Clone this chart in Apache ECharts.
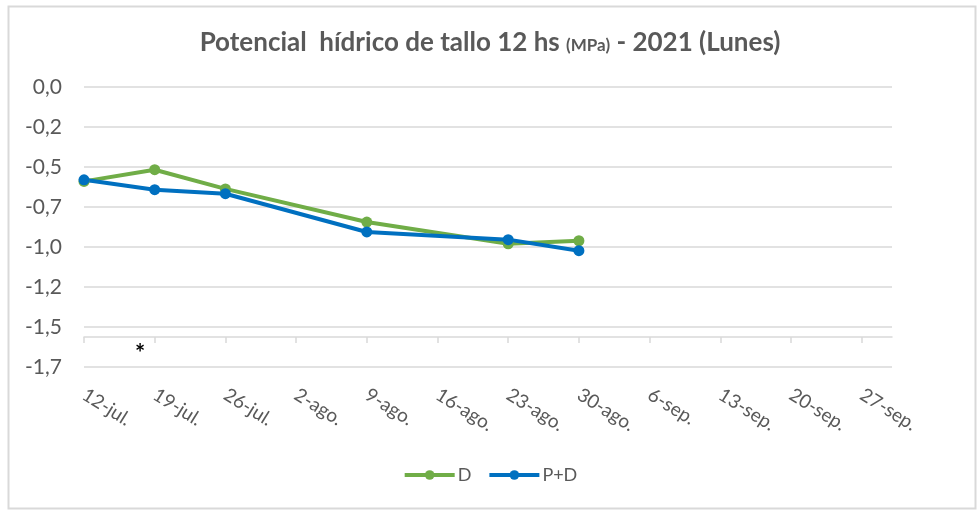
<!DOCTYPE html>
<html>
<head>
<meta charset="utf-8">
<script src="https://cdn.jsdelivr.net/npm/echarts@6/dist/echarts.min.js"></script>
<style>
html,body{margin:0;padding:0;background:#fff;}
#c{width:980px;height:511px;}
</style>
</head>
<body>
<div id="c"></div>
<script>
// Tick labels (every 7 days from 12-jul.)
const tickLabels = ['12-jul.','19-jul.','26-jul.','2-ago.','9-ago.','16-ago.','23-ago.','30-ago.','6-sep.','13-sep.','20-sep.','27-sep.'];
const yLabels = ['0,0','-0,2','-0,5','-0,7','-1,0','-1,2','-1,5','-1,7'];
// Sampling dates as days after 12-jul.
const sampleDays = [0, 7, 14, 28, 42, 49];
const seriesD  = [-0.59, -0.517, -0.637, -0.844, -0.98, -0.961];
const seriesPD = [-0.58, -0.642, -0.667, -0.906, -0.954, -1.023];

const tickDays = tickLabels.map((_, i) => i * 7);
const FONT = 'Lato';
const TXT = '#595959';
const GRID = '#d9d9d9';

const chart = echarts.init(document.getElementById('c'));
chart.setOption({
  backgroundColor: '#fff',
  animation: false,
  textStyle: { fontFamily: FONT, color: TXT },
  title: {
    left: 'center',
    top: 25,
    text: '{b|Potencial  hídrico de tallo 12 hs }{s|(MPa)}{b| - 2021 (Lunes)}',
    textStyle: {
      rich: {
        b: { fontFamily: FONT, fontSize: 26, fontWeight: 'bold', color: TXT },
        s: { fontFamily: FONT, fontSize: 17, color: TXT, padding: [5, 0, 0, 0] }
      }
    }
  },
  legend: {
    left: 'center',
    top: 461,
    itemWidth: 50,
    itemHeight: 12,
    itemGap: 16,
    lineStyle: { width: 4 },
    textStyle: { fontFamily: FONT, fontSize: 18, color: TXT, padding: [0, 0, 0, -2] },
    data: ['D', 'P+D']
  },
  grid: { left: 84, right: 88, top: 87, bottom: 144 },
  xAxis: {
    type: 'value',
    min: 0,
    max: 80,
    interval: 7,
    offset: -30,
    axisLine: { show: true, onZero: false, lineStyle: { color: GRID, width: 1.5 } },
    axisTick: { show: true, customValues: tickDays, length: 6, lineStyle: { color: GRID, width: 1.5 } },
    splitLine: { show: false },
    axisLabel: {
      customValues: tickDays,
      rotate: -32,
      margin: 56,
      fontFamily: FONT,
      fontSize: 19,
      color: TXT,
      formatter: v => tickLabels[Math.round(v / 7)] || ''
    }
  },
  yAxis: {
    type: 'value',
    min: -1.75,
    max: 0,
    interval: 0.25,
    axisLine: { show: false },
    axisTick: { show: false },
    splitLine: { show: true, lineStyle: { color: GRID, width: 1.5 } },
    axisLabel: {
      margin: 22,
      fontFamily: FONT,
      fontSize: 21,
      color: TXT,
      formatter: v => yLabels[Math.round(-v / 0.25)]
    }
  },
  series: [
    {
      name: 'D',
      type: 'line',
      data: sampleDays.map((d, i) => [d, seriesD[i]]),
      symbol: 'circle',
      symbolSize: 11,
      itemStyle: { color: '#70AD47' },
      lineStyle: { color: '#70AD47', width: 4 }
    },
    {
      name: 'P+D',
      type: 'line',
      data: sampleDays.map((d, i) => [d, seriesPD[i]]),
      symbol: 'circle',
      symbolSize: 11,
      itemStyle: { color: '#0070C0' },
      lineStyle: { color: '#0070C0', width: 4 }
    }
  ],
  graphic: [
    {
      type: 'rect',
      left: 6, top: 4,
      shape: { width: 967, height: 502 },
      style: { fill: 'none', stroke: GRID, lineWidth: 2 },
      silent: true
    },
    {
      type: 'text',
      x: 135, y: 342,
      style: { text: '*', font: 'bold 24px ' + FONT, fill: '#000' }
    }
  ]
});
</script>
</body>
</html>
